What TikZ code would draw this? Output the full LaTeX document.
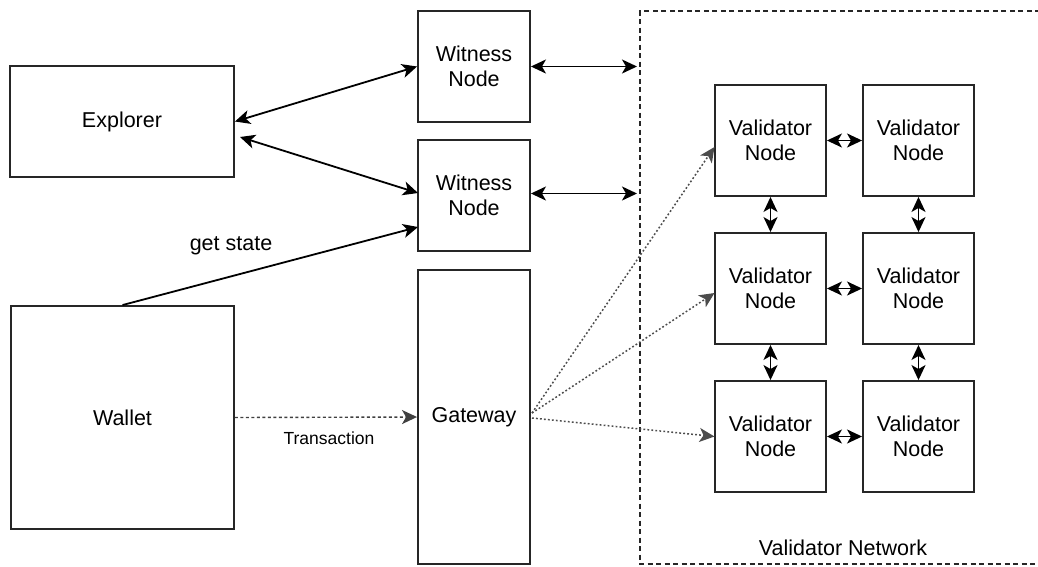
\documentclass[tikz,border=0pt]{standalone}
\usepackage{fontspec}
\setmainfont{Liberation Sans}
\usetikzlibrary{arrows.meta,calc}
\begin{document}
\begin{tikzpicture}[x=1pt,y=-1pt,
  box/.style={draw=black!85,line width=1.9pt,fill=white,align=center,inner sep=0pt,
    font=\fontsize{21.5}{25}\selectfont},
  vbox/.style={box,minimum width=111pt,minimum height=111pt},
  wbox/.style={box,minimum width=112pt,minimum height=111pt},
  conn/.style={line width=1.8pt,draw=black},
  tip/.style={-{Stealth[length=15pt,width=14pt,inset=4pt]}},
  btip/.style={{Stealth[length=15pt,width=14pt,inset=4pt]}-{Stealth[length=15pt,width=14pt,inset=4pt]}},
  dotline/.style={line width=1.5pt,draw=black!70,dash pattern=on 1.8pt off 2.2pt},
  dashline/.style={line width=1.4pt,draw=black!75,dash pattern=on 3pt off 2.5pt},
  lbl/.style={font=\fontsize{21.5}{25}\selectfont,inner sep=0pt},
  slbl/.style={font=\fontsize{17.5}{20}\selectfont,inner sep=0pt}
]
\useasboundingbox (0,0) rectangle (1038,566);

% validator network frame (cut by the right edge)
\draw[line width=1.6pt,dash pattern=on 5pt off 3.5pt,draw=black!85]
  (1040,11) -- (640,11) -- (640,564) -- (1040,564);
\node[lbl] (vnet) at (843,548) {Validator Network};

% nodes
\node[box,minimum width=224pt,minimum height=111pt] (E) at (122,121.5) {Explorer};
\node[box,minimum width=223pt,minimum height=223pt] (Wa) at (122.5,417.5) {Wallet};
\node[wbox] (W1) at (474,66.5) {Witness\\Node};
\node[wbox] (W2) at (474,195.5) {Witness\\Node};
\node[box,minimum width=112pt,minimum height=294pt] (G) at (474,417) {Gateway};

\node[vbox] (V11) at (770.5,140.5) {Validator\\Node};
\node[vbox] (V12) at (918.5,140.5) {Validator\\Node};
\node[vbox] (V21) at (770.5,288.5) {Validator\\Node};
\node[vbox] (V22) at (918.5,288.5) {Validator\\Node};
\node[vbox] (V31) at (770.5,436.5) {Validator\\Node};
\node[vbox] (V32) at (918.5,436.5) {Validator\\Node};

% free ends
\coordinate (n1) at (637,66.5);
\coordinate (n2) at (637,193.5);
\coordinate (e2) at (240,137);
\coordinate (w2a) at (418,193);
\coordinate (w2b) at (418,227);
\coordinate (ga) at (532,413);
\coordinate (gb) at (532,418);
\coordinate (t11) at (714.5,147);
\coordinate (t21) at (714.5,293);
\coordinate (t31) at (714.5,436.5);

% connectors
\draw[conn,btip] (E.east) -- (W1.west);
\draw[conn,btip] (e2) -- (w2a);
\draw[conn,btip] (W1.east) -- (n1);
\draw[conn,btip] (W2.east |- n2) -- (n2);
\draw[conn,tip] (Wa.north) -- (w2b);
\node[lbl] (gs) at (231,246) {get state};

\draw[dashline,tip] (Wa.east) -- (G.west);
\node[slbl] (tr) at (329,438) {Transaction};

\draw[dotline,tip] (ga) -- (t11);
\draw[dotline,tip] (ga) -- (t21);
\draw[dotline,tip] (gb) -- (t31);

\draw[conn,btip] (V11.east) -- (V12.west);
\draw[conn,btip] (V21.east) -- (V22.west);
\draw[conn,btip] (V31.east) -- (V32.west);
\draw[conn,btip] (V11.south) -- (V21.north);
\draw[conn,btip] (V21.south) -- (V31.north);
\draw[conn,btip] (V12.south) -- (V22.north);
\draw[conn,btip] (V22.south) -- (V32.north);
\end{tikzpicture}
\end{document}
